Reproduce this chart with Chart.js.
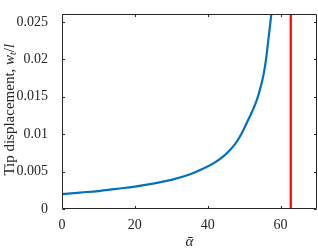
<!DOCTYPE html>
<html>
<head>
<meta charset="utf-8">
<script src="https://cdn.jsdelivr.net/npm/chart.js@4.4.0/dist/chart.umd.min.js"></script>
<style>
html,body{margin:0;padding:0;background:#fff;}
#wrap{width:318px;height:249px;position:relative;}
</style>
</head>
<body>
<div id="wrap"><canvas id="c" width="318" height="249"></canvas></div>
<script>
// Data
const alphaValues = [0, 5, 10, 15, 20, 25, 30, 35, 39.2, 41.9, 44.7, 47.4, 49.2, 51.2, 53.3, 54.9, 55.8, 56.6, 57.45];
const tipDisplacement = [0.0020, 0.0022, 0.0024, 0.0027, 0.0030, 0.0034, 0.0039, 0.0046, 0.0055, 0.0062, 0.0072, 0.0086, 0.0100, 0.0120, 0.0143, 0.0170, 0.0193, 0.0224, 0.0260];
const criticalAlpha = 62.8;
const xTicks = [0, 20, 40, 60];
const yTicks = [0, 0.005, 0.01, 0.015, 0.02, 0.025];
const yTickLabels = ['0', '0.005', '0.01', '0.015', '0.02', '0.025'];
const xRange = [0, 70];
const yRange = [0, 0.026];

const FONT = "'Liberation Serif', 'Times New Roman', serif";
const AXIS = '#262626';

const curve = alphaValues.map((a, i) => ({x: a, y: tipDisplacement[i]}));
const redLine = [{x: criticalAlpha, y: yRange[0]}, {x: criticalAlpha, y: yRange[1]}];

const boxPlugin = {
  id: 'boxTicks',
  afterDraw(chart) {
    const ctx = chart.ctx, a = chart.chartArea;
    const xs = chart.scales.x, ys = chart.scales.y;
    ctx.save();
    ctx.strokeStyle = AXIS;
    ctx.lineWidth = 1;
    const L = Math.round(a.left) + 0.5, R = Math.round(a.right) - 0.5;
    const T = Math.round(a.top) + 0.5, B = Math.round(a.bottom) - 0.5;
    ctx.beginPath();
    ctx.rect(L, T, R - L, B - T);
    const tl = 2.5;
    xTicks.forEach(v => {
      const p = Math.round(xs.getPixelForValue(v)) + 0.5;
      ctx.moveTo(p, B); ctx.lineTo(p, B - tl);
      ctx.moveTo(p, T); ctx.lineTo(p, T + tl);
    });
    yTicks.forEach(v => {
      const p = Math.round(ys.getPixelForValue(v)) + 0.5;
      ctx.moveTo(L, p); ctx.lineTo(L + tl, p);
      ctx.moveTo(R, p); ctx.lineTo(R - tl, p);
    });
    ctx.stroke();

    // y axis title with italic math parts
    const parts = [
      {t: 'Tip displacement, ', f: '15px ' + FONT, dy: 0},
      {t: 'w', f: 'italic 15px ' + FONT, dy: 0},
      {t: 't', f: 'italic 10px ' + FONT, dy: 3},
      {t: '/', f: '15px ' + FONT, dy: 0},
      {t: 'l', f: 'italic 15px ' + FONT, dy: 0}
    ];
    let total = 0;
    parts.forEach(p => { ctx.font = p.f; p.w = ctx.measureText(p.t).width; total += p.w; });
    ctx.fillStyle = AXIS;
    ctx.translate(10, (a.top + a.bottom) / 2 - 2);
    ctx.rotate(-Math.PI / 2);
    ctx.textBaseline = 'middle';
    ctx.textAlign = 'left';
    let x = -total / 2;
    parts.forEach(p => { ctx.font = p.f; ctx.fillText(p.t, x, p.dy); x += p.w; });
    ctx.restore();

    // x axis title
    ctx.save();
    ctx.fillStyle = AXIS;
    ctx.font = 'italic 15px ' + FONT;
    ctx.textAlign = 'center';
    ctx.textBaseline = 'middle';
    ctx.fillText('\u03B1\u0304', (a.left + a.right) / 2, 242);
    ctx.restore();
  }
};

new Chart(document.getElementById('c'), {
  type: 'scatter',
  data: {
    datasets: [
      {data: curve, showLine: true, borderColor: '#0072BD', borderWidth: 2.2, pointRadius: 0, tension: 0.4, fill: false},
      {data: redLine, showLine: true, borderColor: '#FF0000', borderWidth: 2.2, pointRadius: 0, fill: false}
    ]
  },
  options: {
    responsive: false,
    animation: false,
    events: [],
    layout: {padding: {top: 2, right: 1, left: 0, bottom: 0}},
    plugins: {legend: {display: false}, tooltip: {enabled: false}},
    scales: {
      x: {
        type: 'linear', min: xRange[0], max: xRange[1],
        grid: {display: false}, border: {display: false},
        afterBuildTicks: s => { s.ticks = xTicks.map(v => ({value: v})); },
        afterFit: s => { s.height = 40; },
        ticks: {color: AXIS, font: {family: FONT, size: 14}, padding: 0, maxRotation: 0, callback: v => String(v)}
      },
      y: {
        type: 'linear', min: yRange[0], max: yRange[1],
        grid: {display: false}, border: {display: false},
        afterBuildTicks: s => { s.ticks = yTicks.map(v => ({value: v})); },
        afterFit: s => { s.width = 62; },
        ticks: {color: AXIS, font: {family: FONT, size: 14}, padding: 6,
          callback: v => { const i = yTicks.indexOf(v); return i >= 0 ? yTickLabels[i] : ''; }}
      }
    }
  },
  plugins: [boxPlugin]
});
</script>
</body>
</html>
